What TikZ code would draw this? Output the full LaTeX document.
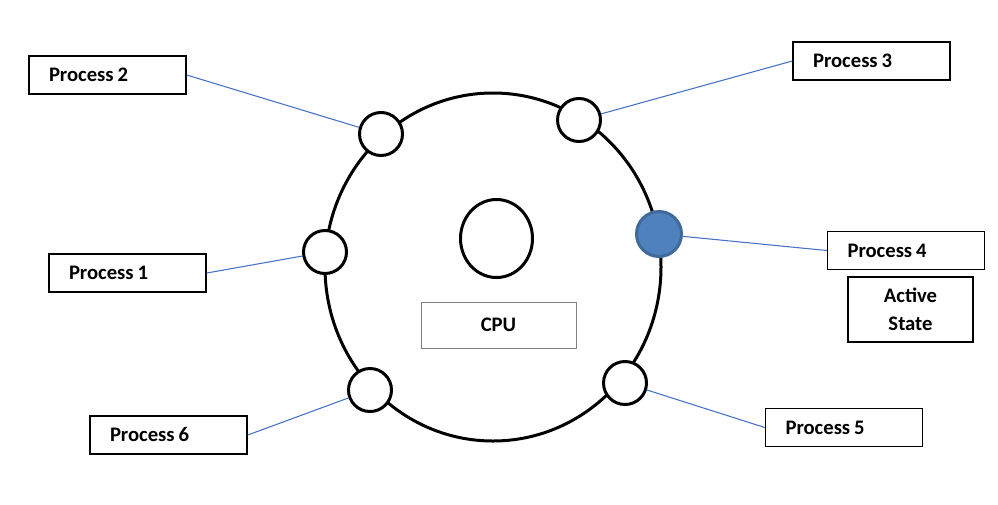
\documentclass[tikz,border=0pt]{standalone}
\usepackage{fontspec}
\setmainfont{Carlito}
\usepackage{tikz}
\usetikzlibrary{positioning}

\definecolor{slotblue}{HTML}{4F81BD}
\definecolor{slotedge}{HTML}{3F6A9A}
\definecolor{linkblue}{HTML}{4472C4}

\newcommand{\labelfont}{\fontsize{15.5}{21}\selectfont\bfseries}
\newcommand{\proclabel}[1]{Process\hspace{-0.14em} #1}

\begin{document}
\begin{tikzpicture}[x=0.75pt, y=-0.75pt,
        procbox/.style={rectangle, draw=black, line width=1.1pt, fill=white, font=\labelfont, text width=87.75pt, align=left, inner xsep=15pt, minimum height=28.5pt},
        statebox/.style={rectangle, draw=black, line width=1.1pt, font=\labelfont, align=center, minimum width=93.75pt, minimum height=48.75pt},
        cpubox/.style={rectangle, draw=black!50, line width=0.75pt, font=\labelfont, align=center, minimum width=116.25pt, minimum height=34.5pt},
        slot/.style={circle, draw=black, line width=2.25pt, fill=white, inner sep=0pt, minimum size=32.25pt},
        active/.style={circle, draw=slotedge, line width=2.25pt, fill=slotblue, inner sep=0pt, minimum size=33.75pt},
        link/.style={draw=linkblue, line width=0.8pt}
    ]
        \useasboundingbox (0,0) rectangle (998,504);

        % Ring and CPU
        \draw[line width=2.25pt] (493,267) ellipse [x radius=126pt, y radius=130.5pt];
        \draw[line width=2.25pt] (496.5,238.5) ellipse [x radius=27pt, y radius=29.25pt];
        \node[cpubox] (cpu) at (498.5,325) {CPU};

        % Slots on the ring
        \node[slot] (c1) at (325,252) {};
        \node[slot] (c2) at (381,134) {};
        \node[slot] (c3) at (579,120) {};
        \node[active] (c4) at (659,234) {};
        \node[slot] (c5) at (625,383) {};
        \node[slot] (c6) at (370,390) {};

        % Processes
        \node[procbox] (p1) at (127.5,273) {\proclabel{1}};
        \node[procbox] (p2) at (107.5,75) {\proclabel{2}};
        \node[procbox] (p3) at (871.5,61) {\proclabel{3}};
        \node[procbox] (p4) at (906,250.5) {\proclabel{4}};
        \node[procbox] (p5) at (844,427.5) {\proclabel{5}};
        \node[procbox] (p6) at (168.5,435) {\proclabel{6}};
        \node[statebox] (state) at (910.5,309.5) {Active\\State};

        % Links
        \draw[link] (p1.east) -- (c1);
        \draw[link] (p2.east) -- (c2);
        \draw[link] (c3) -- (p3.west);
        \draw[link] (c4) -- (p4.west);
        \draw[link] (c5) -- (p5.west);
        \draw[link] (p6.east) -- (c6);

    \end{tikzpicture}
\end{document}
